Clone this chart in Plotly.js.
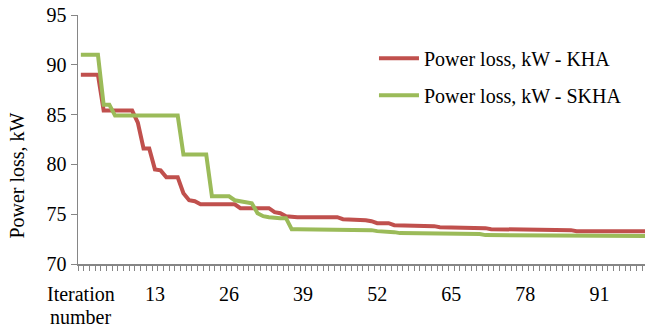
<!DOCTYPE html>
<html>
<head>
<meta charset="utf-8">
<script src="https://cdn.plot.ly/plotly-3.0.1.min.js"></script>
<style>html,body{margin:0;padding:0;background:#fff;}#chart{width:646px;height:328px;}</style>
</head>
<body>
<div id="chart"></div>
<script>
// Iteration index (categories)
var iterations = [];
for (var k = 0; k < 100; k++) iterations.push(k);

// Power loss, kW - KHA
var khaLoss = [
  89.0, 89.0, 89.0, 89.0, 85.4, 85.4, 85.4, 85.4, 85.4, 85.4,
  84.2, 81.6, 81.6, 79.5, 79.4, 78.7, 78.7, 78.7, 77.1, 76.4,
  76.3, 76.0, 76.0, 76.0, 76.0, 76.0, 76.0, 76.0, 75.6, 75.6,
  75.6, 75.6, 75.6, 75.6, 75.2, 75.1, 74.8, 74.7, 74.7, 74.7,
  74.7, 74.7, 74.7, 74.7, 74.7, 74.7, 74.5, 74.5, 74.5, 74.4,
  74.4, 74.3, 74.1, 74.1, 74.1, 73.9, 73.9, 73.9, 73.8, 73.8,
  73.8, 73.8, 73.8, 73.7, 73.7, 73.7, 73.7, 73.6, 73.6, 73.6,
  73.6, 73.6, 73.5, 73.5, 73.5, 73.5, 73.5, 73.5, 73.5, 73.5,
  73.4, 73.4, 73.4, 73.4, 73.4, 73.4, 73.4, 73.3, 73.3, 73.3,
  73.3, 73.3, 73.3, 73.3, 73.3, 73.3, 73.3, 73.3, 73.3, 73.3
];

// Power loss, kW - SKHA
var skhaLoss = [
  91.0, 91.0, 91.0, 91.0, 86.0, 86.0, 84.9, 84.9, 84.9, 84.9,
  84.9, 84.9, 84.9, 84.9, 84.9, 84.9, 84.9, 84.9, 81.0, 81.0,
  81.0, 81.0, 81.0, 76.8, 76.8, 76.8, 76.8, 76.4, 76.3, 76.2,
  76.1, 75.1, 74.8, 74.7, 74.6, 74.6, 74.6, 73.5, 73.5, 73.5,
  73.5, 73.5, 73.5, 73.5, 73.5, 73.5, 73.5, 73.5, 73.4, 73.4,
  73.4, 73.4, 73.3, 73.3, 73.2, 73.2, 73.1, 73.1, 73.1, 73.1,
  73.1, 73.1, 73.1, 73.0, 73.0, 73.0, 73.0, 73.0, 73.0, 73.0,
  73.0, 72.9, 72.9, 72.9, 72.9, 72.9, 72.9, 72.9, 72.9, 72.9,
  72.9, 72.9, 72.9, 72.9, 72.9, 72.9, 72.8, 72.8, 72.8, 72.8,
  72.8, 72.8, 72.8, 72.8, 72.8, 72.8, 72.8, 72.8, 72.8, 72.8
];

// X tick labels (first category carries the axis caption, second line below)
var xTickVals = [0, 13, 26, 39, 52, 65, 78, 91];
var xTickText = ['Iteration', '13', '26', '39', '52', '65', '78', '91'];
var xCaptionLine2 = 'number';
var yTitle = 'Power loss, kW';

var FONT = 'Liberation Serif, Times New Roman, serif';

var traces = [
  {x: iterations, y: khaLoss, type: 'scatter', mode: 'lines', name: 'Power loss, kW - KHA',
   legendgroup: 'a', line: {color: '#C0504D', width: 4}},
  {x: iterations, y: skhaLoss, type: 'scatter', mode: 'lines', name: 'Power loss, kW - SKHA',
   legendgroup: 'b', line: {color: '#9BBB59', width: 4}}
];

var layout = {
  width: 646, height: 328,
  margin: {l: 78, r: 1, t: 15, b: 64},
  paper_bgcolor: '#fff', plot_bgcolor: '#fff',
  font: {family: FONT, size: 20, color: '#000'},
  showlegend: true,
  legend: {x: 0.522, y: 0.905, xanchor: 'left', yanchor: 'top', bgcolor: 'rgba(0,0,0,0)',
           font: {family: FONT, size: 20, color: '#000'}, traceorder: 'grouped', tracegroupgap: 8,
           itemwidth: 40},
  xaxis: {
    range: [-0.5, 99], showgrid: false, zeroline: false,
    showline: true, linecolor: '#868686', linewidth: 1.5,
    tickmode: 'array', tickvals: xTickVals, ticktext: xTickText,
    ticks: 'outside', ticklen: 11, tickcolor: 'rgba(0,0,0,0)',
    minor: {tick0: -0.5, dtick: 1, ticks: 'outside', ticklen: 5, tickcolor: '#868686', tickwidth: 1, showgrid: false},
    tickfont: {family: FONT, size: 20, color: '#000'}
  },
  yaxis: {
    range: [70, 95], dtick: 5, showgrid: false, zeroline: false,
    showline: true, linecolor: '#868686', linewidth: 1.5,
    ticks: 'outside', ticklen: 6, tickcolor: '#868686', tickwidth: 1,
    tickfont: {family: FONT, size: 20, color: '#000'}
  },
  annotations: [
    {text: xCaptionLine2, x: xTickVals[0], xref: 'x', y: 0, yref: 'paper', xanchor: 'center', yanchor: 'middle',
     yshift: -53, showarrow: false, font: {family: FONT, size: 20, color: '#000'}},
    {text: yTitle, textangle: -90, x: 0, xref: 'paper', xshift: -61, y: 0.355, yref: 'paper',
     xanchor: 'center', yanchor: 'middle', showarrow: false, font: {family: FONT, size: 20, color: '#000'}}
  ]
};

Plotly.newPlot('chart', traces, layout, {displayModeBar: false, staticPlot: true});
</script>
</body>
</html>
